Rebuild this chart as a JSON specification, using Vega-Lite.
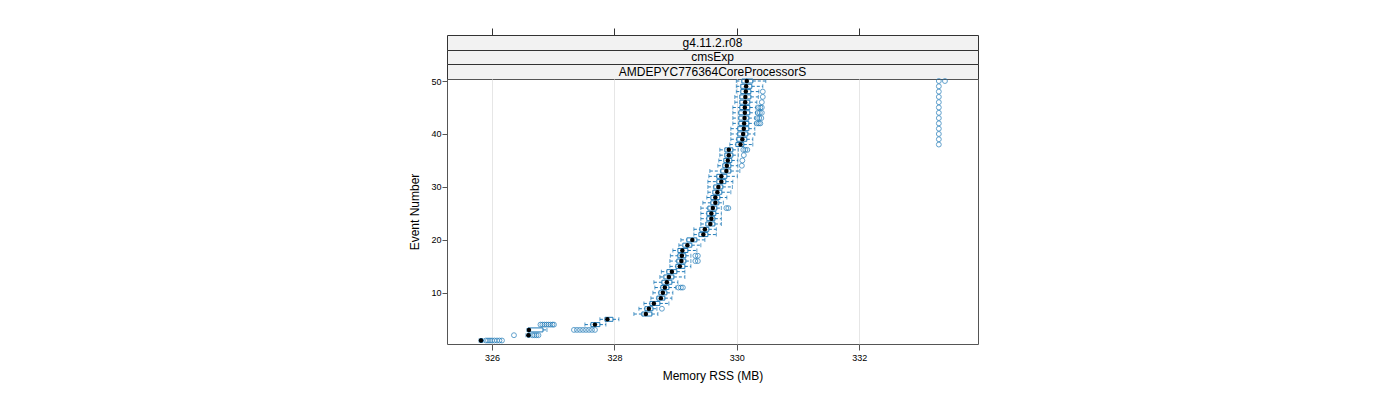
{
  "$schema": "https://vega.github.io/schema/vega-lite/v6.json",
  "padding": {"left": 408, "top": 27, "right": 5, "bottom": 5},
  "autosize": {"type": "pad"},
  "config": {"font": "Liberation Sans", "view": {"stroke": null}},
  "spacing": 0,
  "bounds": "flush",
  "datasets": {
    "boxes": [
      {"event": 1, "lo": 325.788, "q1": 325.804, "median": 325.820, "q3": 325.845, "hi": 325.869},
      {"event": 2, "lo": 326.555, "q1": 326.580, "median": 326.596, "q3": 326.620, "hi": 326.637},
      {"event": 3, "lo": 326.571, "q1": 326.588, "median": 326.604, "q3": 326.833, "hi": 326.898},
      {"event": 4, "lo": 327.518, "q1": 327.616, "median": 327.682, "q3": 327.763, "hi": 327.861},
      {"event": 5, "lo": 327.763, "q1": 327.845, "median": 327.886, "q3": 327.976, "hi": 328.073},
      {"event": 6, "lo": 328.318, "q1": 328.449, "median": 328.514, "q3": 328.612, "hi": 328.710},
      {"event": 7, "lo": 328.400, "q1": 328.498, "median": 328.563, "q3": 328.629, "hi": 328.694},
      {"event": 8, "lo": 328.482, "q1": 328.580, "median": 328.645, "q3": 328.743, "hi": 328.890},
      {"event": 9, "lo": 328.596, "q1": 328.694, "median": 328.759, "q3": 328.824, "hi": 328.939},
      {"event": 10, "lo": 328.629, "q1": 328.727, "median": 328.792, "q3": 328.857, "hi": 328.955},
      {"event": 11, "lo": 328.661, "q1": 328.759, "median": 328.824, "q3": 328.890, "hi": 329.004},
      {"event": 12, "lo": 328.645, "q1": 328.776, "median": 328.857, "q3": 328.939, "hi": 329.037},
      {"event": 13, "lo": 328.743, "q1": 328.808, "median": 328.890, "q3": 328.971, "hi": 329.151},
      {"event": 14, "lo": 328.767, "q1": 328.857, "median": 328.939, "q3": 329.020, "hi": 329.151},
      {"event": 15, "lo": 328.906, "q1": 329.004, "median": 329.069, "q3": 329.151, "hi": 329.249},
      {"event": 16, "lo": 328.906, "q1": 329.020, "median": 329.094, "q3": 329.167, "hi": 329.249},
      {"event": 17, "lo": 328.914, "q1": 329.037, "median": 329.102, "q3": 329.167, "hi": 329.249},
      {"event": 18, "lo": 328.955, "q1": 329.037, "median": 329.110, "q3": 329.200, "hi": 329.347},
      {"event": 19, "lo": 329.053, "q1": 329.118, "median": 329.192, "q3": 329.265, "hi": 329.412},
      {"event": 20, "lo": 329.086, "q1": 329.184, "median": 329.273, "q3": 329.347, "hi": 329.478},
      {"event": 21, "lo": 329.298, "q1": 329.380, "median": 329.453, "q3": 329.527, "hi": 329.665},
      {"event": 22, "lo": 329.298, "q1": 329.396, "median": 329.478, "q3": 329.543, "hi": 329.665},
      {"event": 23, "lo": 329.412, "q1": 329.494, "median": 329.567, "q3": 329.641, "hi": 329.747},
      {"event": 24, "lo": 329.412, "q1": 329.510, "median": 329.584, "q3": 329.641, "hi": 329.747},
      {"event": 25, "lo": 329.412, "q1": 329.510, "median": 329.584, "q3": 329.657, "hi": 329.747},
      {"event": 26, "lo": 329.412, "q1": 329.527, "median": 329.608, "q3": 329.673, "hi": 329.747},
      {"event": 27, "lo": 329.445, "q1": 329.576, "median": 329.649, "q3": 329.706, "hi": 329.780},
      {"event": 28, "lo": 329.510, "q1": 329.576, "median": 329.649, "q3": 329.722, "hi": 329.837},
      {"event": 29, "lo": 329.527, "q1": 329.608, "median": 329.682, "q3": 329.755, "hi": 329.902},
      {"event": 30, "lo": 329.527, "q1": 329.624, "median": 329.698, "q3": 329.771, "hi": 329.927},
      {"event": 31, "lo": 329.527, "q1": 329.673, "median": 329.747, "q3": 329.820, "hi": 329.935},
      {"event": 32, "lo": 329.543, "q1": 329.673, "median": 329.747, "q3": 329.837, "hi": 330.008},
      {"event": 33, "lo": 329.559, "q1": 329.739, "median": 329.829, "q3": 329.902, "hi": 330.049},
      {"event": 34, "lo": 329.690, "q1": 329.771, "median": 329.837, "q3": 329.902, "hi": 330.016},
      {"event": 35, "lo": 329.706, "q1": 329.788, "median": 329.853, "q3": 329.918, "hi": 330.016},
      {"event": 36, "lo": 329.722, "q1": 329.804, "median": 329.869, "q3": 329.935, "hi": 330.024},
      {"event": 37, "lo": 329.722, "q1": 329.804, "median": 329.869, "q3": 329.935, "hi": 330.024},
      {"event": 38, "lo": 329.886, "q1": 329.984, "median": 330.060, "q3": 330.114, "hi": 330.261},
      {"event": 39, "lo": 329.902, "q1": 330.000, "median": 330.090, "q3": 330.163, "hi": 330.261},
      {"event": 40, "lo": 329.902, "q1": 330.016, "median": 330.103, "q3": 330.180, "hi": 330.294},
      {"event": 41, "lo": 329.902, "q1": 330.016, "median": 330.114, "q3": 330.196, "hi": 330.294},
      {"event": 42, "lo": 329.935, "q1": 330.033, "median": 330.119, "q3": 330.196, "hi": 330.294},
      {"event": 43, "lo": 329.935, "q1": 330.033, "median": 330.126, "q3": 330.196, "hi": 330.294},
      {"event": 44, "lo": 329.935, "q1": 330.033, "median": 330.131, "q3": 330.212, "hi": 330.310},
      {"event": 45, "lo": 329.935, "q1": 330.049, "median": 330.131, "q3": 330.212, "hi": 330.310},
      {"event": 46, "lo": 329.967, "q1": 330.049, "median": 330.136, "q3": 330.212, "hi": 330.327},
      {"event": 47, "lo": 329.967, "q1": 330.049, "median": 330.139, "q3": 330.229, "hi": 330.351},
      {"event": 48, "lo": 329.992, "q1": 330.065, "median": 330.147, "q3": 330.229, "hi": 330.359},
      {"event": 49, "lo": 329.992, "q1": 330.065, "median": 330.152, "q3": 330.245, "hi": 330.424},
      {"event": 50, "lo": 329.992, "q1": 330.082, "median": 330.163, "q3": 330.261, "hi": 330.473}
    ],
    "outliers": [
      {"event": 1, "value": 325.902}, {"event": 1, "value": 325.935}, {"event": 1, "value": 325.967}, {"event": 1, "value": 326.000},
      {"event": 1, "value": 326.041}, {"event": 1, "value": 326.082}, {"event": 1, "value": 326.122}, {"event": 1, "value": 326.163},
      {"event": 2, "value": 326.359}, {"event": 2, "value": 326.661}, {"event": 2, "value": 326.694}, {"event": 2, "value": 326.727}, {"event": 2, "value": 326.759},
      {"event": 3, "value": 327.339}, {"event": 3, "value": 327.388}, {"event": 3, "value": 327.437}, {"event": 3, "value": 327.486},
      {"event": 3, "value": 327.535}, {"event": 3, "value": 327.584}, {"event": 3, "value": 327.633}, {"event": 3, "value": 327.682},
      {"event": 4, "value": 326.792}, {"event": 4, "value": 326.824}, {"event": 4, "value": 326.857}, {"event": 4, "value": 326.890},
      {"event": 4, "value": 326.922}, {"event": 4, "value": 326.955}, {"event": 4, "value": 326.988}, {"event": 4, "value": 327.012},
      {"event": 7, "value": 328.776},
      {"event": 11, "value": 329.045}, {"event": 11, "value": 329.086}, {"event": 11, "value": 329.118},
      {"event": 16, "value": 329.322}, {"event": 16, "value": 329.363},
      {"event": 17, "value": 329.322}, {"event": 17, "value": 329.363},
      {"event": 26, "value": 329.829}, {"event": 26, "value": 329.861},
      {"event": 34, "value": 330.082},
      {"event": 35, "value": 330.090},
      {"event": 36, "value": 330.114},
      {"event": 37, "value": 330.106}, {"event": 37, "value": 330.139}, {"event": 37, "value": 330.171},
      {"event": 42, "value": 330.327}, {"event": 42, "value": 330.359}, {"event": 42, "value": 330.384},
      {"event": 43, "value": 330.335}, {"event": 43, "value": 330.367}, {"event": 43, "value": 330.400},
      {"event": 44, "value": 330.343}, {"event": 44, "value": 330.376}, {"event": 44, "value": 330.408},
      {"event": 45, "value": 330.351}, {"event": 45, "value": 330.384}, {"event": 45, "value": 330.408},
      {"event": 46, "value": 330.408},
      {"event": 47, "value": 330.424},
      {"event": 48, "value": 330.424},
      {"event": 38, "value": 333.30}, {"event": 39, "value": 333.30}, {"event": 40, "value": 333.30}, {"event": 41, "value": 333.30},
      {"event": 42, "value": 333.30}, {"event": 43, "value": 333.30}, {"event": 44, "value": 333.30}, {"event": 45, "value": 333.30},
      {"event": 46, "value": 333.30}, {"event": 47, "value": 333.30}, {"event": 48, "value": 333.30}, {"event": 49, "value": 333.30},
      {"event": 50, "value": 333.30}, {"event": 50, "value": 333.40}
    ]
  },
  "vconcat": [
    {
      "width": 531, "height": 15,
      "view": {"fill": "#f2f2f2", "stroke": "#333333", "strokeWidth": 1},
      "data": {"values": [{"label": "g4.11.2.r08"}]},
      "mark": {"type": "text", "fontSize": 12, "baseline": "middle", "align": "center", "color": "black"},
      "encoding": {"text": {"field": "label", "type": "nominal"}}
    },
    {
      "width": 531, "height": 14,
      "view": {"fill": "#f2f2f2", "stroke": "#333333", "strokeWidth": 1},
      "data": {"values": [{"label": "cmsExp"}]},
      "mark": {"type": "text", "fontSize": 12, "baseline": "middle", "align": "center", "color": "black"},
      "encoding": {"text": {"field": "label", "type": "nominal"}}
    },
    {
      "width": 531, "height": 15,
      "view": {"fill": "#f2f2f2", "stroke": "#333333", "strokeWidth": 1},
      "data": {"values": [{"label": "AMDEPYC776364CoreProcessorS"}]},
      "mark": {"type": "text", "fontSize": 12, "baseline": "middle", "align": "center", "color": "black"},
      "encoding": {"text": {"field": "label", "type": "nominal"}}
    },
    {
      "width": 531, "height": 265,
      "view": {"stroke": "#555555", "strokeWidth": 1},
      "resolve": {"axis": {"x": "independent"}},
      "layer": [
        {
          "data": {"name": "boxes"},
          "mark": {"type": "rule", "strokeDash": [3, 2], "color": "#1f7ab8", "strokeWidth": 1},
          "encoding": {
            "x": {"field": "lo", "type": "quantitative",
                  "scale": {"domain": [325.265, 333.94], "nice": false, "zero": false, "padding": 0},
                  "axis": {"values": [326, 328, 330, 332], "title": "Memory RSS (MB)", "titleFontSize": 12, "titleFontWeight": "normal", "titleColor": "black", "titlePadding": 8,
                           "labelFontSize": 9, "labelColor": "black", "labelPadding": 3, "tickSize": 6, "tickColor": "#555555", "domain": false,
                           "grid": true, "gridColor": "#e6e6e6"}},
            "x2": {"field": "q1"},
            "y": {"field": "event", "type": "quantitative",
                  "scale": {"domain": [0.34, 50.38], "nice": false, "zero": false, "padding": 0},
                  "axis": {"values": [10, 20, 30, 40, 50], "title": "Event Number", "titleFontSize": 12, "titleFontWeight": "normal", "titleColor": "black", "titlePadding": 9,
                           "labelFontSize": 9, "labelColor": "black", "labelPadding": 1, "tickSize": 5, "tickColor": "#555555", "domain": false, "grid": false}}
          }
        },
        {
          "data": {"name": "boxes"},
          "mark": {"type": "rule", "strokeDash": [3, 2], "color": "#1f7ab8", "strokeWidth": 1},
          "encoding": {
            "x": {"field": "q3", "type": "quantitative", "axis": null},
            "x2": {"field": "hi"},
            "y": {"field": "event", "type": "quantitative"}
          }
        },
        {
          "data": {"name": "boxes"},
          "mark": {"type": "tick", "orient": "vertical", "size": 4, "thickness": 1, "color": "#1f7ab8"},
          "encoding": {
            "x": {"field": "lo", "type": "quantitative", "axis": null},
            "y": {"field": "event", "type": "quantitative"}
          }
        },
        {
          "data": {"name": "boxes"},
          "mark": {"type": "tick", "orient": "vertical", "size": 4, "thickness": 1, "color": "#1f7ab8"},
          "encoding": {
            "x": {"field": "hi", "type": "quantitative", "axis": null},
            "y": {"field": "event", "type": "quantitative"}
          }
        },
        {
          "data": {"name": "boxes"},
          "mark": {"type": "bar", "height": 4, "fill": "transparent", "stroke": "#1f7ab8", "strokeWidth": 1},
          "encoding": {
            "x": {"field": "q1", "type": "quantitative", "axis": null},
            "x2": {"field": "q3"},
            "y": {"field": "event", "type": "quantitative"}
          }
        },
        {
          "data": {"name": "outliers"},
          "mark": {"type": "point", "filled": false, "color": "#1f7ab8", "size": 24, "strokeWidth": 1},
          "encoding": {
            "x": {"field": "value", "type": "quantitative",
                  "axis": {"orient": "top", "offset": 44, "values": [326, 328, 330, 332], "labels": false, "title": null, "domain": false, "grid": false, "tickSize": 7, "tickColor": "#333333"}},
            "y": {"field": "event", "type": "quantitative"}
          }
        },
        {
          "data": {"name": "boxes"},
          "mark": {"type": "point", "filled": true, "color": "black", "opacity": 1, "size": 20},
          "encoding": {
            "x": {"field": "median", "type": "quantitative", "axis": null},
            "y": {"field": "event", "type": "quantitative"}
          }
        }
      ]
    }
  ]
}
